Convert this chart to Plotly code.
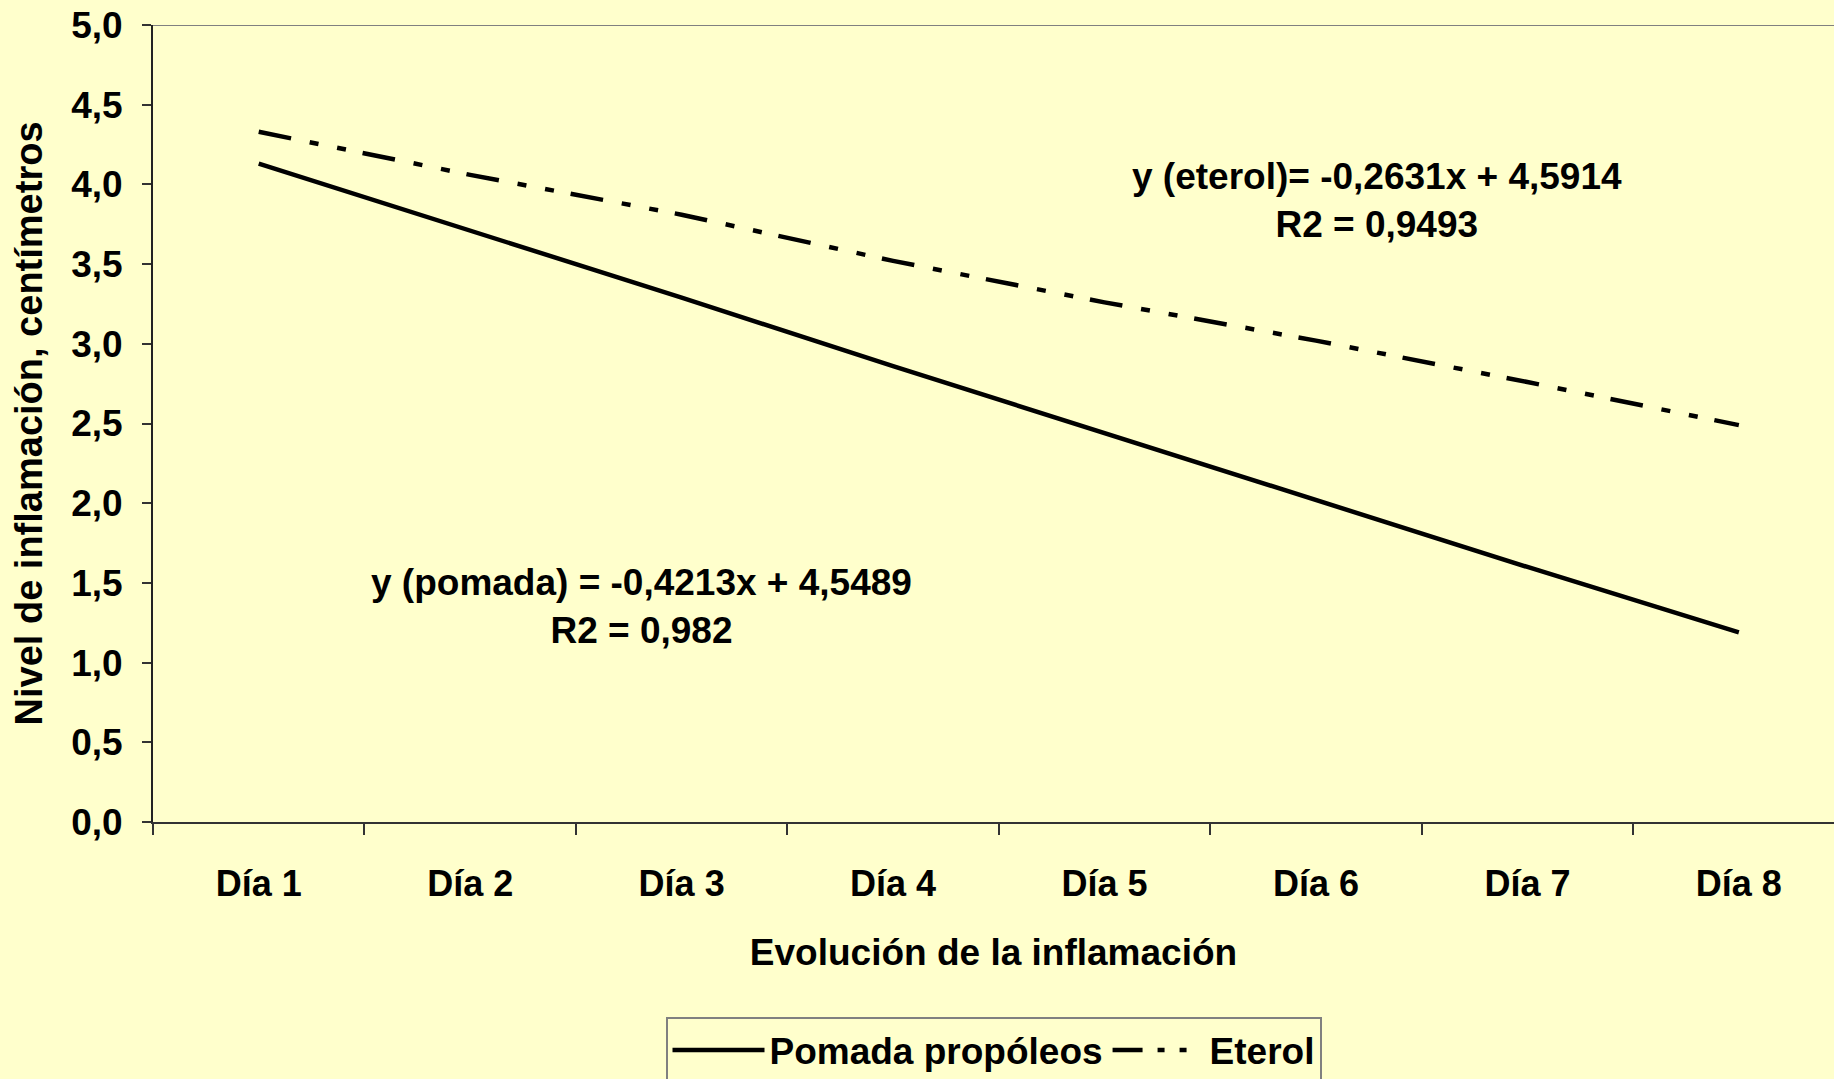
import plotly.graph_objects as go

days = ["Día 1", "Día 2", "Día 3", "Día 4", "Día 5", "Día 6", "Día 7", "Día 8"]
pomada = [4.13, 3.71, 3.29, 2.86, 2.44, 2.02, 1.60, 1.19]
eterol = [4.33, 4.06, 3.81, 3.52, 3.26, 3.02, 2.76, 2.49]
series_names = ["Pomada propóleos", "Eterol"]
eq_pomada = "y (pomada) = -0,4213x + 4,5489<br>R2 = 0,982"
eq_eterol = "y (eterol)= -0,2631x + 4,5914<br>R2 = 0,9493"
x_title = "Evolución de la inflamación"
y_title = "Nivel de inflamación, centímetros"

BG = "#FFFFCC"
FONT = "Liberation Sans"
ETEROL_DASH = "33px,19px,9px,19px,9px,17px"
ETEROL_LEGEND_DASH = "30px,15px,7px,15px,7px,30px"


def bold(size):
    return dict(family=FONT, size=size, color="black", weight=700)


fig = go.Figure()
fig.add_trace(go.Scatter(x=days, y=pomada, mode="lines", name=series_names[0],
                         line=dict(color="black", width=4.5), showlegend=False))
fig.add_trace(go.Scatter(x=days, y=eterol, mode="lines", name=series_names[1],
                         line=dict(color="black", width=4.5, dash=ETEROL_DASH),
                         showlegend=False))
# legend entries (legend-only keys with a compact dash sample like the original)
fig.add_trace(go.Scatter(x=[None], y=[None], mode="lines", name=series_names[0],
                         line=dict(color="black", width=4.5)))
fig.add_trace(go.Scatter(x=[None], y=[None], mode="lines", name=series_names[1],
                         line=dict(color="black", width=4.5, dash=ETEROL_LEGEND_DASH)))

fig.add_annotation(x=5.29, y=3.90, xref="x", yref="y", text=eq_eterol, showarrow=False,
                   align="center", font=bold(37))
fig.add_annotation(x=1.81, y=1.35, xref="x", yref="y", text=eq_pomada, showarrow=False,
                   align="center", font=bold(37))
# y-axis title placed as rotated text
fig.add_annotation(x=-0.0738, y=0.5, xref="paper", yref="paper", text=y_title,
                   showarrow=False, textangle=-90, xanchor="center", yanchor="middle",
                   font=bold(38))

# top border of plot area
fig.add_shape(type="line", xref="paper", yref="y", x0=0, x1=1, y0=5, y1=5,
              line=dict(color="#808080", width=2))

fig.update_layout(
    width=1834, height=1079,
    margin=dict(l=153, r=0, t=25, b=257),
    paper_bgcolor=BG, plot_bgcolor=BG,
    separators=",.",
    font=bold(36),
    showlegend=True,
    legend=dict(orientation="h", x=0.5, xanchor="center", y=0.057, yanchor="top",
                yref="container", bgcolor=BG, bordercolor="#808080", borderwidth=2,
                itemwidth=92, font=bold(37), tracegroupgap=0),
)
fig.update_xaxes(
    type="category", range=[-0.5, 7.45], tickson="boundaries",
    showgrid=False, zeroline=False, showline=True, linecolor="#333333", linewidth=2,
    ticks="outside", ticklen=11, tickwidth=1.5, tickcolor="#333333",
    tickfont=bold(36), ticklabelstandoff=29,
    title=dict(text=x_title, standoff=36, font=bold(37)),
)
fig.update_yaxes(
    range=[0, 5], dtick=0.5, tick0=0, tickformat=".1f",
    showgrid=False, zeroline=False, showline=True, linecolor="#222222", linewidth=2,
    ticks="outside", ticklen=9, tickwidth=1.5, tickcolor="#333333",
    tickfont=bold(37), ticklabelstandoff=12,
)

fig.write_html("out.html", config={"displayModeBar": False},
               post_script="document.body.style.margin='0px';")
